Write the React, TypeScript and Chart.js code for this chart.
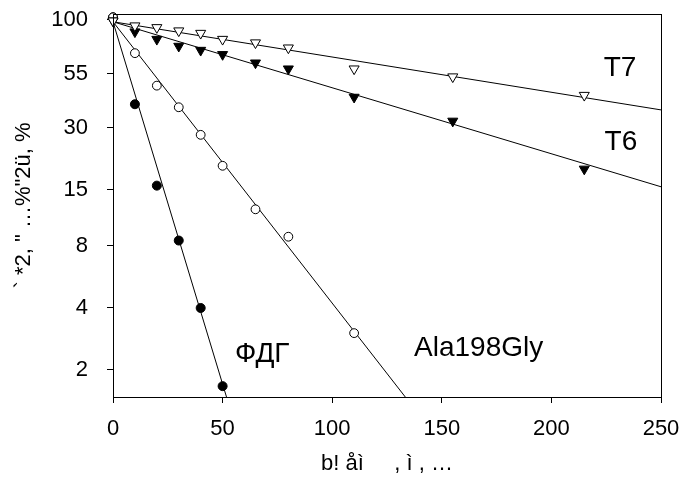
import React, { useEffect, useRef } from 'react';
import { Chart, registerables } from 'chart.js';

Chart.register(...registerables);

// ---- data ----
const triangleTimes = [0, 10, 20, 30, 40, 50, 65, 80, 110, 155, 215];
const t7Values = [99, 93.7, 91.9, 88.6, 86.2, 80.6, 77.5, 73.2, 57.9, 53.0, 43.1];
const t6Values = [99, 87.6, 80.6, 74.6, 71.3, 68.0, 61.9, 57.9, 42.2, 32.3, 18.9];
const alaTimes = [0, 10, 20, 30, 40, 50, 65, 80, 110];
const alaValues = [103, 69, 48, 37.7, 27.7, 19.6, 12.05, 8.87, 3.02];
const fdgTimes = [0, 10, 20, 30, 40, 50];
const fdgValues = [103, 39, 15.7, 8.5, 4.0, 1.67];

// fitted exponential lines (start / end)
const fitT7 = [{ x: 0, y: 98 }, { x: 250, y: 36.6 }];
const fitT6 = [{ x: 0, y: 98 }, { x: 250, y: 15.5 }];
const fitAla = [{ x: 0, y: 98 }, { x: 140, y: 1.2 }];
const fitFdg = [{ x: 0, y: 98 }, { x: 55, y: 1.14 }];

const yTickValues = [2, 4, 8, 15, 30, 55, 100];
const xTickStep = 50;
const xMin = 0;
const xMax = 250;
const yMin = 1.479;
const yMax = 106.9;

const xTitle = 'b! åì     , ì , …';
const yTitle = '` *2, " …%"2ü, %';

const seriesLabels = [
  { text: 'T7', x: 231.3, y: 58.5 },
  { text: 'T6', x: 231.7, y: 25.6 },
  { text: 'ФДГ', x: 68.1, y: 2.39 },
  { text: 'Ala198Gly', x: 166.8, y: 2.56 },
];

const FONT = "'Liberation Sans', Arial, sans-serif";

const toPts = (xs: number[], ys: number[]) => xs.map((x, i) => ({ x, y: ys[i] }));

const framePlugin = {
  id: 'frameAndLabels',
  afterDatasetsDraw(chart: any) {
    const { ctx, chartArea, scales } = chart;
    ctx.save();
    ctx.strokeStyle = '#000';
    ctx.lineWidth = 1;
    ctx.strokeRect(
      Math.round(chartArea.left) + 0.5,
      Math.round(chartArea.top) + 0.5,
      Math.round(chartArea.right - chartArea.left),
      Math.round(chartArea.bottom - chartArea.top)
    );
    ctx.fillStyle = '#000';
    ctx.font = `28px ${FONT}`;
    ctx.textAlign = 'center';
    ctx.textBaseline = 'middle';
    for (const l of seriesLabels) {
      ctx.fillText(l.text, scales.x.getPixelForValue(l.x), scales.y.getPixelForValue(l.y));
    }
    ctx.restore();
  },
};

const zeroPadding = (s: any) => {
  s.paddingTop = 0;
  s.paddingBottom = 0;
  s.paddingLeft = 0;
  s.paddingRight = 0;
};

export default function App() {
  const ref = useRef<HTMLCanvasElement | null>(null);

  useEffect(() => {
    if (!ref.current) return;
    Chart.defaults.color = '#000';
    Chart.defaults.font.family = FONT;

    const markerBase = {
      showLine: false,
      borderColor: '#000',
      borderWidth: 1,
      clip: false as any,
    };
    const fitBase = {
      showLine: true,
      borderColor: '#000',
      borderWidth: 1,
      pointRadius: 0,
      fill: false,
    };

    const chart = new Chart(ref.current, {
      type: 'scatter',
      data: {
        datasets: [
          { ...markerBase, label: 'T7', data: toPts(triangleTimes, t7Values), pointStyle: 'triangle', pointRotation: 180, pointRadius: 5.8, backgroundColor: '#fff' },
          { ...markerBase, label: 'T6', data: toPts(triangleTimes, t6Values), pointStyle: 'triangle', pointRotation: 180, pointRadius: 5.8, backgroundColor: '#000' },
          { ...markerBase, label: 'Ala198Gly', data: toPts(alaTimes, alaValues), pointStyle: 'circle', pointRadius: 4.4, backgroundColor: '#fff' },
          { ...markerBase, label: 'ФДГ', data: toPts(fdgTimes, fdgValues), pointStyle: 'circle', pointRadius: 4.5, backgroundColor: '#000' },
          { ...fitBase, label: 'fit T7', data: fitT7 },
          { ...fitBase, label: 'fit T6', data: fitT6 },
          { ...fitBase, label: 'fit Ala', data: fitAla },
          { ...fitBase, label: 'fit FDG', data: fitFdg },
        ] as any,
      },
      options: {
        animation: false,
        responsive: false,
        events: [],
        layout: { padding: { top: 14, right: 22, left: 0, bottom: 0 } },
        plugins: {
          legend: { display: false },
          tooltip: { enabled: false },
        },
        scales: {
          x: {
            type: 'linear',
            min: xMin,
            max: xMax,
            ticks: {
              stepSize: xTickStep,
              padding: 13,
              font: { size: 22, family: FONT },
              color: '#000',
              maxRotation: 0,
            },
            grid: { drawOnChartArea: false, drawTicks: true, tickLength: 6, color: '#000' },
            border: { display: true, color: '#000' },
            title: {
              display: true,
              text: xTitle,
              font: { size: 22, family: FONT },
              color: '#000',
              padding: { top: 0, bottom: 4 },
            },
            afterFit: (s: any) => {
              s.height = 84;
              zeroPadding(s);
            },
          },
          y: {
            type: 'logarithmic',
            min: yMin,
            max: yMax,
            bounds: 'data',
            afterBuildTicks: (s: any) => {
              s.ticks = yTickValues.map((v) => ({ value: v }));
            },
            ticks: {
              padding: 19,
              font: { size: 22, family: FONT },
              color: '#000',
              callback: (v: any) => String(v),
              autoSkip: false,
            },
            grid: { drawOnChartArea: false, drawTicks: true, tickLength: 6, color: '#000' },
            border: { display: true, color: '#000' },
            title: {
              display: true,
              text: yTitle,
              font: { size: 22, family: FONT },
              color: '#000',
              padding: { top: 11, bottom: 0 },
            },
            afterFit: (s: any) => {
              s.width = 113;
              zeroPadding(s);
            },
          },
        },
      } as any,
      plugins: [framePlugin],
    });
    return () => chart.destroy();
  }, []);

  return (
    <div style={{ position: 'fixed', left: 0, top: 0, width: 683, height: 481, background: '#fff' }}>
      <canvas ref={ref} width={683} height={481} style={{ display: 'block' }} />
    </div>
  );
}
